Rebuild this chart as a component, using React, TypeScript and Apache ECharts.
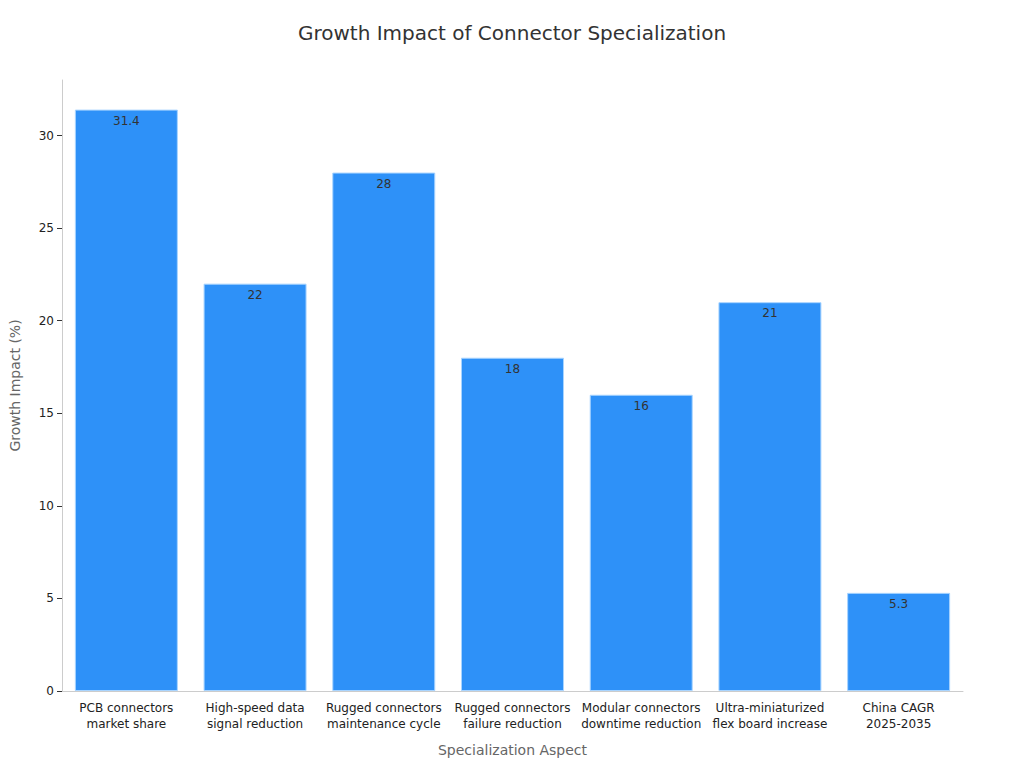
import React, { useEffect, useRef } from "react";
import * as echarts from "echarts";

const categories = [
  "PCB connectors\nmarket share",
  "High-speed data\nsignal reduction",
  "Rugged connectors\nmaintenance cycle",
  "Rugged connectors\nfailure reduction",
  "Modular connectors\ndowntime reduction",
  "Ultra-miniaturized\nflex board increase",
  "China CAGR\n2025-2035",
];
const values = [31.4, 22, 28, 18, 16, 21, 5.3];
const yTickValues = [0, 5, 10, 15, 20, 25, 30];
const yMax = 33;

export default function App() {
  const ref = useRef<HTMLDivElement>(null);
  useEffect(() => {
    if (!ref.current) return;
    const chart = echarts.init(ref.current, undefined, { renderer: "svg" });
    chart.setOption({
      animation: false,
      textStyle: { fontFamily: "DejaVu Sans" },
      title: {
        text: "Growth Impact of Connector Specialization",
        left: "center",
        top: 18,
        textStyle: { fontSize: 20, fontWeight: "normal", color: "#333", fontFamily: "DejaVu Sans" },
      },
      grid: { left: 60, right: 61, top: 80, bottom: 77, containLabel: false },
      xAxis: {
        type: "category",
        data: categories,
        name: "Specialization Aspect",
        nameLocation: "middle",
        nameGap: 52,
        nameTextStyle: { fontSize: 14, color: "#666" },
        axisLine: { lineStyle: { color: "#ccc" } },
        axisTick: { alignWithLabel: true, lineStyle: { color: "#333" } },
        axisLabel: { color: "#222", fontSize: 12, interval: 0, lineHeight: 16, margin: 9 },
      },
      yAxis: {
        type: "value",
        min: 0,
        max: yMax,
        interval: 5,
        name: "Growth Impact (%)",
        nameLocation: "middle",
        nameGap: 40,
        nameTextStyle: { fontSize: 14, color: "#666" },
        axisLine: { show: true, lineStyle: { color: "#ccc" } },
        axisTick: { show: true, customValues: yTickValues, lineStyle: { color: "#333" } },
        axisLabel: { color: "#222", fontSize: 12, customValues: yTickValues },
        splitLine: { show: false },
      },
      series: [
        {
          type: "bar",
          data: values,
          barCategoryGap: "20%",
          itemStyle: { color: "#2e91f8", borderColor: "#a8d4ff", borderWidth: 1 },
          label: {
            show: true,
            position: "insideTop",
            color: "#333",
            fontSize: 12,
            distance: 5,
          },
        },
      ],
    });
    return () => chart.dispose();
  }, []);
  return <div ref={ref} style={{ width: 1024, height: 768, margin: -8 }} />;
}
